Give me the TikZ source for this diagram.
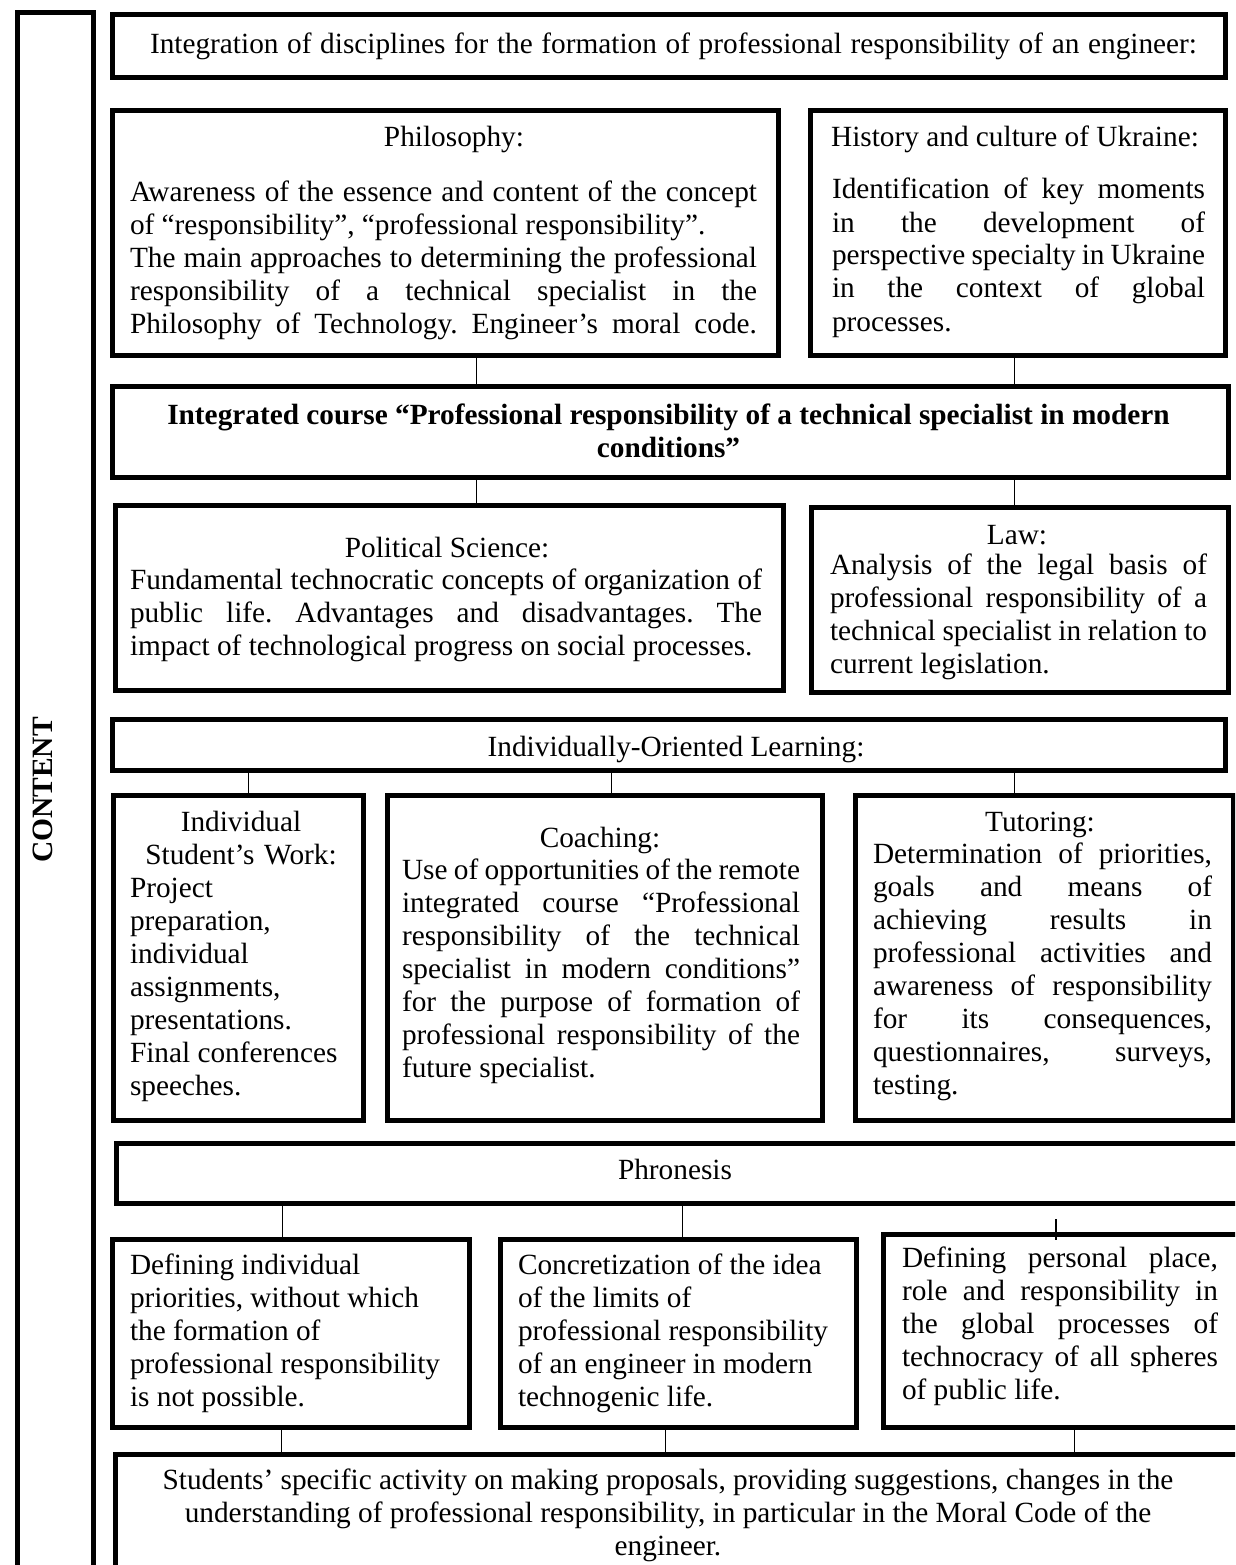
\documentclass[tikz,border=0pt]{standalone}
\usepackage{fontspec}
\setmainfont{Liberation Serif}
\usepackage{tikz}
\usetikzlibrary{positioning,calc}
\frenchspacing
% one justified line / one plain line, with the font's own word spaces
\newcommand{\jline}[1]{\makebox[\hsize][s]{\spaceskip=0pt\xspaceskip=0pt\relax #1}}
\newcommand{\nline}[1]{\mbox{\spaceskip=0pt\xspaceskip=0pt\relax #1}}
\tikzset{
  box/.style={draw=black, line width=5pt, inner sep=0pt, anchor=north west},
  link/.style={draw=black, line width=1.6pt},
  lbl/.style={inner sep=0pt, anchor=base, align=center},
  body/.style={inner sep=0pt, anchor=base, align=left, text width=#1},
}

\begin{document}
\begin{tikzpicture}[x=1pt, y=-1pt, font=\fontsize{29.3}{33}\selectfont]
  \useasboundingbox (0,0) rectangle (1235,1565);
  \clip (0,0) rectangle (1235,1565);
  % frames
  \node[box, minimum width=76, minimum height=1600] (bar) at (14.5,10.5) {};
  \node[box, minimum width=1113, minimum height=63] (integr) at (109.5,12.5) {};
  \node[box, minimum width=666, minimum height=244] (phil) at (109.5,108.5) {};
  \node[box, minimum width=415, minimum height=244] (hist) at (807.5,108.5) {};
  \node[box, minimum width=1116, minimum height=91] (course) at (109.5,383.5) {};
  \node[box, minimum width=668, minimum height=185] (polit) at (112.5,502.5) {};
  \node[box, minimum width=417, minimum height=185] (law) at (808.5,504.5) {};
  \node[box, minimum width=1113, minimum height=51] (indiv) at (109.5,716.5) {};
  \node[box, minimum width=250, minimum height=325] (isw) at (110.5,792.5) {};
  \node[box, minimum width=435, minimum height=325] (coach) at (384.5,792.5) {};
  \node[box, minimum width=378, minimum height=325] (tutor) at (852.5,792.5) {};
  \node[box, minimum width=1140, minimum height=60] (phron) at (113.5,1140.5) {};
  \node[box, minimum width=357, minimum height=188] (prior) at (109.5,1236.5) {};
  \node[box, minimum width=356, minimum height=188] (limits) at (497.5,1236.5) {};
  \node[box, minimum width=380, minimum height=193] (place) at (880.5,1231.5) {};
  \node[box, minimum width=1150, minimum height=200] (stud) at (112.5,1451.5) {};

  % connectors
  \draw[link] ([xshift=31.5pt]phil.south) -- ([xshift=31.5pt]phil.south |- course.north);
  \draw[link] ([xshift=-3pt]hist.south) -- ([xshift=-3pt]hist.south |- course.north);
  \draw[link] ([xshift=-193.5pt]course.south) -- ([xshift=-193.5pt]course.south |- polit.north);
  \draw[link] ([xshift=344.5pt]course.south) -- ([xshift=344.5pt]course.south |- law.north);
  \draw[link] ([xshift=-420pt]indiv.south) -- ([xshift=-420pt]indiv.south |- isw.north);
  \draw[link] ([xshift=-57pt]indiv.south) -- ([xshift=-57pt]indiv.south |- coach.north);
  \draw[link] ([xshift=346pt]indiv.south) -- ([xshift=346pt]indiv.south |- tutor.north);
  \draw[link] ([xshift=-403.5pt]phron.south) -- ([xshift=-403.5pt]phron.south |- prior.north);
  \draw[link] ([xshift=-3.5pt]phron.south) -- ([xshift=-3.5pt]phron.south |- limits.north);
  \draw[link] ([xshift=-17pt,yshift=-8pt]place.north) -- ++(0,-21);
  \draw[link] ([xshift=-9pt]prior.south) -- ([xshift=-9pt]prior.south |- stud.north);
  \draw[link] ([xshift=-12.5pt]limits.south) -- ([xshift=-12.5pt]limits.south |- stud.north);
  \draw[link] ([xshift=1.5pt]place.south) -- ([xshift=1.5pt]place.south |- stud.north);

  % texts
  \node[lbl, rotate=90, font=\fontsize{29.5}{33}\selectfont\bfseries] (content) at (52,790) {CONTENT};
  \node[lbl] (integrT) at (673.5,54) {\makebox[1047pt][s]{Integration of disciplines for the formation of professional responsibility of an engineer:}};

  \node[lbl] (philT) at (454,147) {Philosophy:};
  \node[body=627] (philB) at (443.5,201) {\jline{Awareness of the essence and content of the concept}\\
    \nline{of “responsibility”, “professional responsibility”.}\\
    \jline{The main approaches to determining the professional}\\
    \jline{responsibility of a technical specialist in the}\\
    \jline{Philosophy of Technology. Engineer’s moral code.}};

  \node[lbl] (histT) at (1015,147) {History and culture of Ukraine:};
  \node[body=373] (histB) at (1018.5,199) {\jline{Identification of key moments}\\
    \jline{in the development of}\\
    \jline{perspective specialty in Ukraine}\\
    \jline{in the context of global}\\
    \nline{processes.}};

  \node[lbl, text width=1100, font=\fontsize{29.3}{33}\selectfont\bfseries] (courseT) at (668.5,424)
    {\nline{Integrated course “Professional responsibility of a technical specialist in modern}\\ \nline{conditions”}};

  \node[lbl] (politT) at (447,557) {Political Science:};
  \node[body=632] (politB) at (446,589) {\jline{Fundamental technocratic concepts of organization of}\\
    \jline{public life. Advantages and disadvantages. The}\\
    \nline{impact of technological progress on social processes.}};

  \node[lbl] (lawT) at (1017,544) {Law:};
  \node[body=377] (lawB) at (1018.5,574) {\jline{Analysis of the legal basis of}\\
    \jline{professional responsibility of a}\\
    \jline{technical specialist in relation to}\\
    \nline{current legislation.}};

  \node[lbl] (indivT) at (676,756) {Individually-Oriented Learning:};

  \node[body=222] (iswB) at (241,831) {\makebox[\hsize]{Individual}\\
    \makebox[\hsize]{Student’s Work:}\\
    Project\\ preparation,\\ individual\\ assignments,\\ presentations.\\
    \nline{Final conferences}\\ speeches.};

  \node[lbl] (coachT) at (600,847) {Coaching:};
  \node[body=398] (coachB) at (601,879) {\jline{Use of opportunities of the remote}\\
    \jline{integrated course “Professional}\\
    \jline{responsibility of the technical}\\
    \jline{specialist in modern conditions”}\\
    \jline{for the purpose of formation of}\\
    \jline{professional responsibility of the}\\
    \nline{future specialist.}};

  \node[lbl] (tutorT) at (1040,831) {Tutoring:};
  \node[body=339] (tutorB) at (1042.5,863) {\jline{Determination of priorities,}\\
    \jline{goals and means of}\\
    \jline{achieving results in}\\
    \jline{professional activities and}\\
    \jline{awareness of responsibility}\\
    \jline{for its consequences,}\\
    \jline{questionnaires, surveys,}\\
    testing.};

  \node[lbl] (phronT) at (675,1179) {Phronesis};

  \node[body=320] (priorB) at (290,1274) {\nline{Defining individual}\\ \nline{priorities, without which}\\
    \nline{the formation of}\\ \nline{professional responsibility}\\ \nline{is not possible.}};
  \node[body=320] (limitsB) at (678,1274) {\nline{Concretization of the idea}\\ \nline{of the limits of}\\
    \nline{professional responsibility}\\ \nline{of an engineer in modern}\\ \nline{technogenic life.}};
  \node[body=316] (placeB) at (1060,1267) {\jline{Defining personal place,}\\
    \jline{role and responsibility in}\\
    \jline{the global processes of}\\
    \jline{technocracy of all spheres}\\
    \nline{of public life.}};

  \node[lbl, text width=1100] (studT) at (668,1489)
    {\nline{Students’ specific activity on making proposals, providing suggestions, changes in the}\\
     \nline{understanding of professional responsibility, in particular in the Moral Code of the}\\
     \nline{engineer.}};
\end{tikzpicture}
\end{document}
